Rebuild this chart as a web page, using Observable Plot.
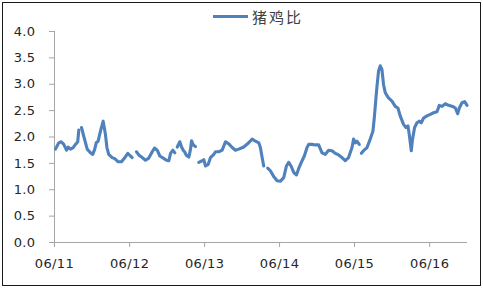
<!DOCTYPE html>
<html><head><meta charset="utf-8">
<script src="https://cdn.jsdelivr.net/npm/d3@7"></script>
<script src="https://cdn.jsdelivr.net/npm/@observablehq/plot@0.6"></script>
<style>
body{margin:0;background:#fff}
#wrap{position:relative;width:483px;height:288px;overflow:hidden;background:#fff}
#frame{position:absolute;left:2px;top:2px;width:477px;height:282px;border:1px solid #1a1a1a;pointer-events:none}
#legend{position:absolute;left:213px;top:4px;height:24px;display:flex;align-items:center;font-family:"Noto Sans CJK SC";font-size:15px;color:#404040;letter-spacing:2px}
#legend .sw{width:35px;height:3px;background:#4F81BD;margin-right:4px}
#chart svg{position:absolute;left:0;top:0}
</style></head>
<body>
<div id="wrap"><div id="chart"></div><div id="legend"><span class="sw"></span><span>猪鸡比</span></div><div id="frame"></div></div>
<script>
// Decimal years (time); null value = gap in the series
const years = [
2011.427,2011.471,2011.503,2011.538,2011.574,2011.597,2011.627,2011.663,2011.694,2011.724,2011.738,2011.756,
2011.774,2011.807,2011.850,2011.894,2011.924,2011.951,2011.970,2011.996,2012.027,2012.063,2012.093,2012.113,
2012.137,2012.183,2012.217,2012.263,2012.307,2012.347,2012.390,2012.426,2012.449,2012.478,
2012.506,2012.537,2012.582,2012.626,2012.670,2012.716,2012.746,2012.782,2012.817,2012.862,2012.906,2012.937,
2012.959,2012.990,2013.017,2013.033,
2013.049,2013.083,2013.106,2013.128,2013.146,2013.172,2013.203,2013.226,2013.239,2013.262,2013.292,2013.314,
2013.336,2013.382,2013.403,2013.426,2013.461,2013.492,2013.536,2013.559,2013.603,2013.648,2013.692,2013.736,
2013.781,2013.825,2013.869,2013.936,2014.002,2014.048,2014.092,2014.136,2014.158,2014.181,2014.202,2014.228,
2014.255,2014.291,2014.335,2014.381,2014.425,2014.469,2014.505,2014.535,2014.567,2014.602,2014.638,2014.668,
2014.714,2014.744,2014.780,2014.802,2014.847,2014.891,2014.935,2014.980,2015.024,2015.068,2015.113,2015.157,
2015.201,2015.246,2015.290,2015.334,2015.380,2015.401,2015.424,2015.446,2015.477,2015.490,
2015.504,2015.534,2015.580,2015.623,2015.659,2015.677,2015.690,2015.713,2015.734,2015.757,2015.779,2015.801,
2015.823,2015.867,2015.913,2015.957,2015.992,2016.023,2016.067,2016.099,2016.126,2016.143,2016.170,2016.187,
2016.214,2016.246,2016.276,2016.303,2016.334,2016.379,2016.423,2016.467,2016.512,2016.543,2016.579,2016.623,
2016.667,2016.720,2016.756,2016.787,2016.809,2016.845,2016.880,2016.912
];
const ratio = [
1.77,1.89,1.91,1.86,1.75,1.81,1.77,1.80,1.86,1.91,2.13,null,
2.18,2.00,1.77,1.70,1.67,1.77,1.89,1.92,2.11,2.30,2.05,1.80,
1.67,1.61,1.59,1.53,1.53,1.60,1.69,1.64,1.61,null,
1.72,1.66,1.61,1.56,1.60,1.72,1.79,1.75,1.64,1.60,1.56,1.55,
1.69,1.75,1.70,null,
1.81,1.91,1.81,1.75,1.72,1.65,1.62,1.77,1.93,1.85,1.82,null,
1.52,1.55,1.57,1.45,1.48,1.61,1.67,1.72,1.72,1.75,1.91,1.87,
1.80,1.75,1.77,1.81,1.89,1.96,1.92,1.89,1.80,1.61,1.45,null,
1.41,1.36,1.25,1.17,1.16,1.23,1.45,1.52,1.45,1.33,1.28,1.40,
1.55,1.64,1.80,1.86,1.86,1.85,1.85,1.70,1.67,1.75,1.74,1.69,
1.66,1.61,1.55,1.61,1.80,1.96,1.89,1.92,1.86,null,
1.69,1.74,1.80,1.96,2.11,2.36,2.58,2.96,3.25,3.35,3.28,2.99,
2.84,2.74,2.68,2.58,2.55,2.40,2.24,2.18,2.21,2.05,1.74,1.96,
2.18,2.27,2.30,2.27,2.36,2.40,2.43,2.46,2.48,2.60,2.58,2.63,
2.60,2.58,2.55,2.44,2.55,2.65,2.67,2.60
];
const xTickLabels = ["06/11","06/12","06/13","06/14","06/15","06/16"];
const xTickYears = [2011,2012,2013,2014,2015,2016];
const yTicks = [0,0.5,1,1.5,2,2.5,3,3.5,4];
const xStart = 2011.414, xEnd = 2016.918;

const toDate = t => { const y = Math.floor(t); const s = Date.UTC(y,0,1), e = Date.UTC(y+1,0,1); return new Date(s + (t - y) * (e - s)); };
const data = years.map((t, i) => ({date: toDate(t), value: ratio[i]}));
const tickDates = xTickYears.map(y => new Date(Date.UTC(y, 5, 1)));
const labelFor = new Map(tickDates.map((d, i) => [+d, xTickLabels[i]]));

const chart = Plot.plot({
  width: 483, height: 288,
  marginLeft: 54, marginRight: 16, marginTop: 31, marginBottom: 46,
  style: {fontFamily: "DejaVu Sans", fontSize: "13px", background: "transparent", letterSpacing: "0.4px"},
  x: {type: "utc", domain: [toDate(xStart), toDate(xEnd)]},
  y: {domain: [0, 4]},
  marks: [
    Plot.ruleY([0], {stroke: "#a6a6a6", strokeWidth: 1}),
    Plot.ruleX([toDate(xStart)], {y1: 0, y2: 4, stroke: "#a6a6a6", strokeWidth: 1}),
    Plot.axisY({ticks: yTicks, tickFormat: d3.format(".1f"), tickSize: 5, tickPadding: 14, stroke: "#a6a6a6", fill: "#262626", label: null}),
    Plot.axisX({ticks: tickDates, tickFormat: d => labelFor.get(+d), tickSize: 5, tickPadding: 11, stroke: "#a6a6a6", fill: "#262626", label: null}),
    Plot.line(data, {x: "date", y: "value", stroke: "#4F81BD", strokeWidth: 3.1, strokeLinejoin: "round"})
  ]
});
document.getElementById("chart").appendChild(chart);
</script>
</body></html>
